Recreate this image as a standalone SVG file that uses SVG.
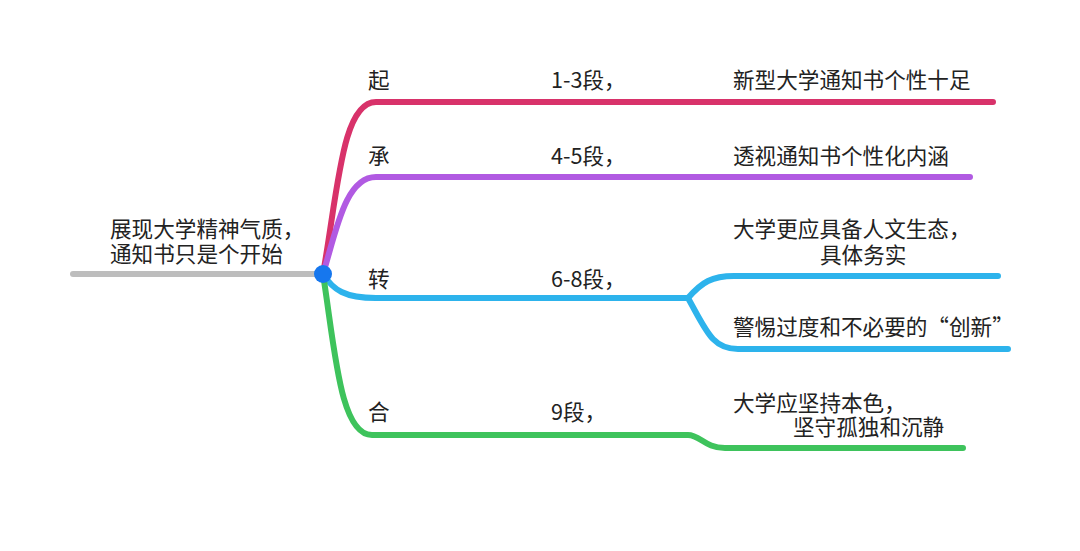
<svg xmlns="http://www.w3.org/2000/svg" width="1080" height="551" viewBox="0 0 1080 551">
<style>
.t{font-family:"Noto Sans CJK SC","Noto Sans",sans-serif;font-size:21.6px;fill:#222;}
.l{fill:none;stroke-width:6;stroke-linecap:round;stroke-linejoin:round;}
</style>
<rect width="1080" height="551" fill="#fff"/>
<g id="connectors">
<path class="l" stroke="#bdbdbd" d="M73,274 L323,274"/>
<path class="l" stroke="#d8326a" d="M323,274 C338,190 342,102 376,102 L993,102"/>
<path class="l" stroke="#b15ae2" d="M323,274 C336,232 345,177 376,177 L970,177"/>
<path class="l" stroke="#2db3ec" d="M323,274 C333,290 345,298 376,298 L688,298"/>
<path class="l" stroke="#2db3ec" d="M688,298 C702,282 712,276 734,276 L998,276"/>
<path class="l" stroke="#2db3ec" d="M688,298 C706,330 712,349 738,349 L1008,349"/>
<path class="l" stroke="#3ec35c" d="M323,274 C335,350 340,435 372,435 L688,435 C700,435 705,448 725,448 L963,448"/>
</g>
<g id="root">
<text class="t" x="110" y="237">展现大学精神气质，<tspan x="110" y="262">通知书只是个开始</tspan></text>
<circle cx="323" cy="274" r="9" fill="#1677ee"/>
</g>
<g id="n-qi"><text class="t" x="368" y="88">起</text></g>
<g id="n-qi-p"><text class="t" x="551" y="88">1-3段，</text></g>
<g id="n-qi-c"><text class="t" x="733" y="88">新型大学通知书个性十足</text></g>
<g id="n-cheng"><text class="t" x="368" y="164">承</text></g>
<g id="n-cheng-p"><text class="t" x="551" y="164">4-5段，</text></g>
<g id="n-cheng-c"><text class="t" x="733" y="164">透视通知书个性化内涵</text></g>
<g id="n-zhuan"><text class="t" x="368" y="287">转</text></g>
<g id="n-zhuan-p"><text class="t" x="551" y="287">6-8段，</text></g>
<g id="n-zhuan-c1">
<text class="t" x="733" y="237">大学更应具备人文生态，<tspan x="820" y="263">具体务实</tspan></text>
</g>
<g id="n-zhuan-c2"><text class="t" x="733" y="335">警惕过度和不必要的“创新”</text></g>
<g id="n-he"><text class="t" x="368" y="420">合</text></g>
<g id="n-he-p"><text class="t" x="551" y="420">9段，</text></g>
<g id="n-he-c">
<text class="t" x="733" y="411">大学应坚持本色，<tspan x="793" y="435">坚守孤独和沉静</tspan></text>
</g>
</svg>
